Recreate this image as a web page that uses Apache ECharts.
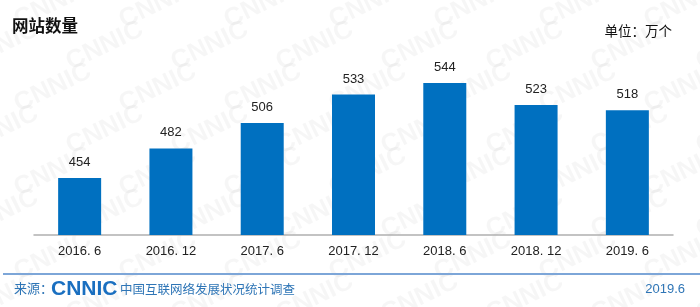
<!DOCTYPE html>
<html><head><meta charset="utf-8">
<script src="https://cdn.jsdelivr.net/npm/echarts@6/dist/echarts.min.js"></script>
<style>html,body{margin:0;padding:0;background:#fff}#c{width:700px;height:307px}</style>
</head><body><div id="c"></div>
<script>
var categories = ['2016. 6','2016. 12','2017. 6','2017. 12','2018. 6','2018. 12','2019. 6'];
var siteCounts = [454, 482, 506, 533, 544, 523, 518];
var titleText = '网站数量';
var unitText = '单位：万个';
var sourceLabel = '来源：';
var sourceName = '中国互联网络发展状况统计调查';
var dateText = '2019.6';

var chart = echarts.init(document.getElementById('c'), null, {renderer:'canvas'});
var wm = [];
for (var r = -1; r < 8; r++) {
  for (var c = -1; c < 9; c++) {
    wm.push({type:'text', x: c*105 + (r%2)*52 + 10, y: r*42 + 10, rotation: Math.PI/7, z: -10, silent:true,
      style:{text:'CNNIC', font:'bold 26px "Liberation Sans", Arial', fill:'rgba(0,0,0,0.035)'}});
  }
}
var graphics = wm.concat([
  {type:'text', left:12, top:17, style:{text:titleText, font:'bold 16.5px "Noto Sans CJK SC"', fill:'#111'}},
  {type:'text', right:28, top:24, style:{text:unitText, font:'13.5px "Noto Sans CJK SC"', fill:'#111'}},
  {type:'line', shape:{x1:3,y1:274,x2:700,y2:274}, style:{stroke:'#7da6d8', lineWidth:2}},
  {type:'text', left:14, top:282, style:{text:sourceLabel, font:'13px "Noto Sans CJK SC"', fill:'#2e75b6'}},
  {type:'text', left:51, top:279, style:{text:'CNNIC', font:'bold 21px "Liberation Sans", Arial', fill:'#1a6fc0'}},
  {type:'text', left:120, top:283, style:{text:sourceName, font:'12.5px "Noto Sans CJK SC"', fill:'#2e75b6'}},
  {type:'text', right:15, top:283, style:{text:dateText, font:'13px "Liberation Sans", Arial', fill:'#2e75b6'}}
]);
chart.setOption({
  animation:false,
  grid:{left:34, right:27, top:66, bottom:72},
  xAxis:{type:'category', data:categories,
    axisLine:{lineStyle:{color:'#b0b0b0', width:1.5}}, axisTick:{show:false},
    axisLabel:{color:'#222', fontSize:13, fontFamily:'"Liberation Sans", Arial', margin:10}},
  yAxis:{type:'value', min:400, max:560, show:false, splitLine:{show:false}},
  series:[{type:'bar', data:siteCounts, barWidth:43,
    itemStyle:{color:'#0070c0'},
    label:{show:true, position:'top', distance:9, color:'#222', fontSize:13, fontFamily:'"Liberation Sans", Arial'}}],
  graphic:graphics
});
</script></body></html>
